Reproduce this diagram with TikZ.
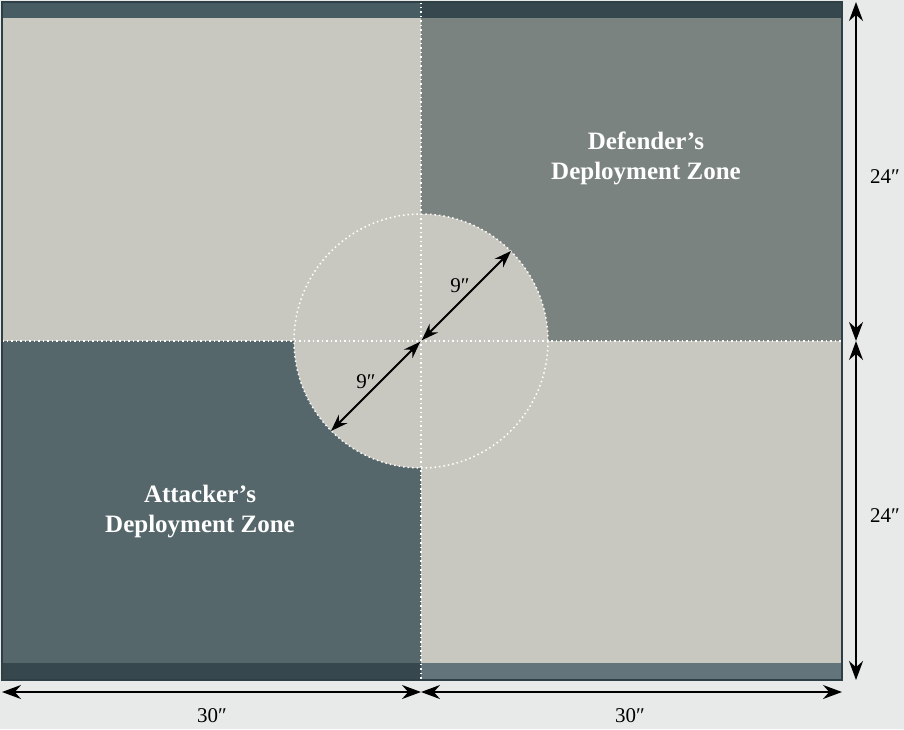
\documentclass[tikz,border=0pt]{standalone}
\usepackage{fontspec}
\setmainfont{Liberation Serif}
\usetikzlibrary{arrows.meta}

\definecolor{tablebg}{HTML}{E8EAEA}
\definecolor{lightzone}{HTML}{C9C8C0}
\definecolor{defzone}{HTML}{7A8380}
\definecolor{attzone}{HTML}{55676B}
\definecolor{edgeline}{HTML}{2E3F45}
\definecolor{stripA}{HTML}{485C64}
\definecolor{stripB}{HTML}{36474D}

\begin{document}
\begin{tikzpicture}[x=1pt,y=-1pt,
  zone/.style={font=\fontsize{25}{30}\selectfont\bfseries, text=white, align=center},
  dimlabel/.style={font=\fontsize{21}{24}\selectfont, text=black},
  dimline/.style={line width=1.8pt, {Stealth[length=19pt,width=14pt]}-{Stealth[length=19pt,width=14pt]}},
  radline/.style={line width=1.8pt, {Stealth[length=17pt,width=12pt]}-{Stealth[length=17pt,width=12pt]}, shorten <=1pt},
  guide/.style={white, line width=1.5pt, dash pattern=on 1.5pt off 3pt}]
\useasboundingbox (0,0) rectangle (904,729);
\fill[tablebg] (0,0) rectangle (904,729);

% board corners and centre
\coordinate (nw) at (2,2);
\coordinate (ne) at (842,2);
\coordinate (sw) at (2,680);
\coordinate (se) at (842,680);
\coordinate (c) at (421,341);
\coordinate (n) at (421,2);
\coordinate (s) at (421,680);
\coordinate (w) at (2,341);
\coordinate (e) at (842,341);

% quadrants
\fill[lightzone] (nw) rectangle (c);
\fill[defzone] (n) rectangle (e);
\fill[attzone] (w) rectangle (s);
\fill[lightzone] (c) rectangle (se);
\fill[lightzone] (c) circle (127);

% short table edges
\fill[stripA] (nw) rectangle (421,18);
\fill[stripB] (n) rectangle (842,18);
\fill[stripB] (2,663) rectangle (s);
\fill[stripA!85!white] (421,663) rectangle (se);

% dotted guides
\draw[guide] (n) -- (s);
\draw[guide] (w) -- (e);
\draw[guide] (c) circle (127);

\draw[edgeline, line width=2.5pt] (nw) rectangle (se);

% 9" radius
\coordinate (r-ne) at (511,251);
\coordinate (r-sw) at (331,431);
\draw[radline] (c) -- (r-ne);
\draw[radline] (c) -- (r-sw);
\node[dimlabel] (rad1) at (460,286) {9″};
\node[dimlabel] (rad2) at (366,382) {9″};

% side dimensions
\coordinate (d-top) at (856,2);
\coordinate (d-mid) at (856,341);
\coordinate (d-bot) at (856,680);
\coordinate (b-left) at (2,692);
\coordinate (b-mid) at (421,692);
\coordinate (b-right) at (842,692);
\draw[dimline] (d-top) -- (d-mid);
\draw[dimline] (d-mid) -- (d-bot);
\draw[dimline] (b-left) -- (b-mid);
\draw[dimline] (b-mid) -- (b-right);
\node[dimlabel] (h1) at (885,177) {24″};
\node[dimlabel] (h2) at (885,516) {24″};
\node[dimlabel] (w1) at (212,716) {30″};
\node[dimlabel] (w2) at (630,716) {30″};

% zones
\node[zone] (def) at (646,158) {Defender’s\\Deployment Zone};
\node[zone] (att) at (200,512) {Attacker’s\\Deployment Zone};
\end{tikzpicture}
\end{document}
